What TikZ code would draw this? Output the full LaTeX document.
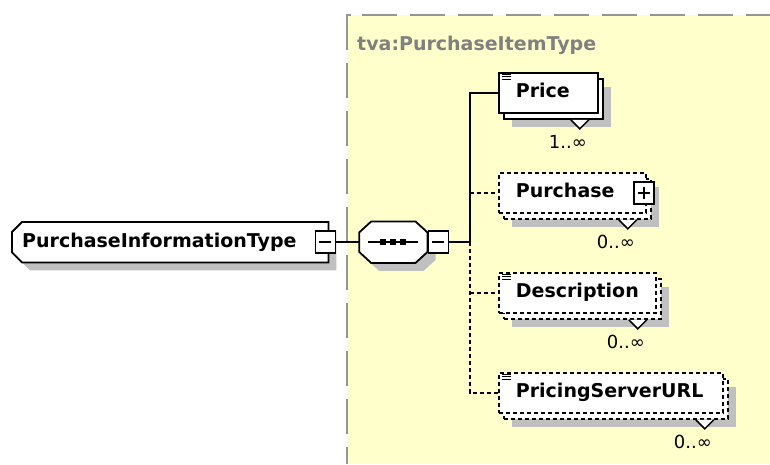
\documentclass[tikz,border=0pt]{standalone}
\usepackage{fontspec}
\setmainfont{DejaVu Sans}
\usetikzlibrary{positioning, shadows, backgrounds}
\definecolor{typebg}{RGB}{255,255,204}
\definecolor{shade}{RGB}{192,192,192}
\definecolor{frame}{RGB}{150,150,150}
\tikzset{
x=1pt, y=-1pt, % one unit per pixel, y grows downwards
box/.style={draw, fill=white, line width=1.8pt},
optional/.style={dash pattern=on 4pt off 3pt}, % minOccurs=0
shade/.style={drop shadow={shadow xshift=#1, shadow yshift=-#1, fill=shade, opacity=1}},
elem/.style={box, #1, anchor=north west, inner xsep=17pt, inner ysep=0pt,
  minimum height=40pt, text height=14pt, text depth=4pt, align=left,
  font=\bfseries\fontsize{19}{22}\selectfont,
  drop shadow={shadow xshift=13pt, shadow yshift=-14pt, fill=shade, opacity=1},
  copy shadow={shadow xshift=5pt, shadow yshift=-6pt, draw=black, fill=white, line width=1.8pt, #1}},
elem/.default=solid,
typebox/.style={inner xsep=10pt, inner ysep=0pt, minimum height=40pt, text height=14pt, text depth=4pt,
  align=left, font=\bfseries\fontsize{19}{22}\selectfont},
seqbox/.style={minimum width=68pt, minimum height=41pt, inner sep=0pt},
sign/.style={draw, fill=white, line width=1.5pt, minimum width=20pt, minimum height=22pt, inner sep=0pt},
minus/.style={sign, path picture={
  \draw[line width=1.5pt] ([xshift=-6pt]path picture bounding box.center) -- ([xshift=6pt]path picture bounding box.center);}},
plus/.style={sign, path picture={
  \draw[line width=1.5pt] ([xshift=-6pt]path picture bounding box.center) -- ([xshift=6pt]path picture bounding box.center);
  \draw[line width=1.5pt] ([yshift=-6pt]path picture bounding box.center) -- ([yshift=6pt]path picture bounding box.center);}},
conn/.style={line width=1.8pt},
mult/.style={inner sep=0pt, font=\fontsize{18}{20}\selectfont},
title/.style={inner sep=0pt, text=black!50, font=\bfseries\fontsize{19}{22}\selectfont},
}
\begin{document}
\begin{tikzpicture}
\useasboundingbox (0,0) rectangle (770,464);

% complex type area
\begin{scope}[on background layer]
\fill[typebg] (347,15) rectangle (770,464);
\draw[frame, line width=2pt, dash pattern=on 35pt off 13pt] (347,15) -- (347,464);
\draw[frame, line width=2pt, dash pattern=on 35pt off 13pt] (362,15) -- (770,15);
\draw[frame, line width=2pt] (346,15) -- (351,15);
\end{scope}
\node[title, anchor=base west] (ttl) at (357,50) {tva:PurchaseItemType};

% element and sequence
\node[typebox, text width=296pt, anchor=north west] (pit) at (12,222) {PurchaseInformationType};
\node[minus] (pitm) at ([xshift=-3pt]pit.east) {};
\node[seqbox, right=23pt of pitm] (seq) {};
\node[minus, right=0pt of seq] (seqm) {};
\coordinate[right=21pt of seqm] (fork);
\begin{scope}[on background layer]
\path[box, shade=8pt] ([xshift=10pt]pit.north west) -- (pit.north east) -- (pit.south east)
  -- ([xshift=10pt]pit.south west) -- ([yshift=10pt]pit.south west) -- ([yshift=-10pt]pit.north west) -- cycle;
\path[box, shade=8pt] ([xshift=12pt]seq.north west) -- ([xshift=-12pt]seq.north east) -- ([yshift=-11pt]seq.north east)
  -- ([yshift=11pt]seq.south east) -- ([xshift=-12pt]seq.south east) -- ([xshift=12pt]seq.south west)
  -- ([yshift=11pt]seq.south west) -- ([yshift=-11pt]seq.north west) -- cycle;
\end{scope}
\draw[line width=1.8pt] ([xshift=-25pt]seq.center) -- ([xshift=25pt]seq.center);
\foreach \dx in {-10,0,10}
  \fill ([xshift=\dx pt]seq.center) +(-3,-3) rectangle +(3,3);

% children
\node[elem, text width=65pt] (price) at (498,72) {Price};
\node[elem=optional, text width=113pt] (purchase) at (498,172) {Purchase};
\node[plus] (purchasep) at ([xshift=-3pt]purchase.east) {};
\node[elem=optional, text width=123pt] (desc) at (498,272) {Description};
\node[elem=optional, text width=190pt] (psu) at (498,372) {PricingServerURL};

% simple content marks
\foreach \e in {price, desc, psu}
  \foreach \dy in {2,4.5,7}
    \draw[line width=1pt] ([shift={(4,\dy)}]\e.north west) -- ++(9,0);

% occurrence marks
\foreach \e/\m in {price/1..∞, purchase/0..∞, desc/0..∞, psu/0..∞} {
  \draw[line width=1.5pt, fill=white] ([shift={(-28,6)}]\e.south east) -- ([shift={(-19,15)}]\e.south east) -- ([shift={(-10,6)}]\e.south east);
  \node[mult] (\e-m) at ([shift={(-31,28)}]\e.south east) {\m};
}

% connectors
\draw[conn] (pitm.east) -- (seq.west);
\draw[conn] (seqm.east) -- (fork);
\draw[conn] (fork) |- (price.west);
\draw[conn, optional] (fork) |- (psu.west);
\draw[conn, optional] (fork |- purchase.west) -- (purchase.west);
\draw[conn, optional] (fork |- desc.west) -- (desc.west);
\end{tikzpicture}
\end{document}
